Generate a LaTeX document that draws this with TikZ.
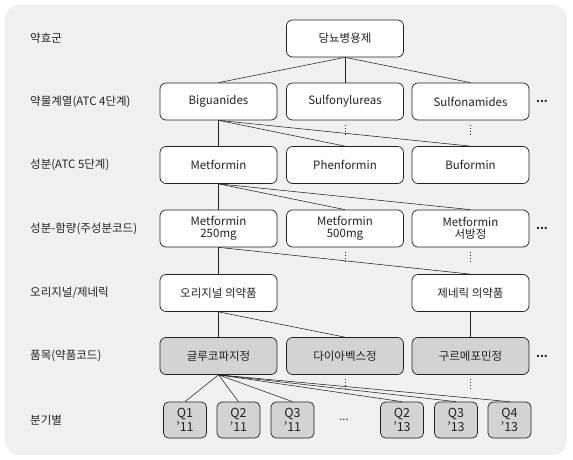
\documentclass[tikz,border=0pt]{standalone}
\usepackage{fontspec}
\setmainfont{Noto Sans CJK KR}
\usetikzlibrary{positioning}
\definecolor{bg}{HTML}{F0F0F0}
\definecolor{ink}{HTML}{222222}
\definecolor{itemgray}{HTML}{D3D3D3}
\tikzset{
  catbox/.style={
    draw=ink,
    line width=0.7pt,
    fill=white,
    rounded corners=6pt,
    minimum width=117pt,
    minimum height=37pt,
    inner sep=0pt,
    align=center,
    text=ink,
    font=\fontsize{11.5}{12}\selectfont
  },
  itembox/.style={
    catbox,
    fill=itemgray
  },
  qbox/.style={
    itembox,
    minimum width=43pt,
    minimum height=36pt,
    rounded corners=5pt,
    font=\fontsize{12.5}{13.5}\selectfont
  },
  levellabel/.style={
    anchor=west,
    inner sep=0pt,
    text=ink,
    font=\fontsize{11.5}{12}\selectfont
  },
  moretext/.style={
    inner sep=0pt,
    text=ink,
    font=\bfseries\fontsize{11}{12}\selectfont
  },
  link/.style={
    draw=ink,
    line width=0.55pt
  },
  moredots/.style={
    draw=ink,
    line width=1pt,
    dash pattern=on 1pt off 2pt
  }
}

\begin{document}
\begin{tikzpicture}[x=1pt,y=-1pt]

\useasboundingbox (0,0) rectangle (573,460);

% Background
\fill[bg, rounded corners=14pt] (5,5) rectangle (567,455);

% ---------- Level labels ----------
\foreach \y/\lbl in {
  38.5/{약효군},
  101.5/{약물계열(ATC 4단계)},
  165/{성분(ATC 5단계)},
  228.5/{성분-함량(주성분코드)},
  293/{오리지널/제네릭},
  356/{품목(약품코드)},
  420/{분기별}
}{
  \node[levellabel] at (30,\y) {\lbl};
}

% ---------- Boxes ----------
\node[catbox] (root) at (345,38.5) {당뇨병용제};

\node[catbox] (bigu)  at (218.5,101.5) {Biguanides};
\node[catbox] (sulfu) at (345,101.5)   {Sulfonylureas};
\node[catbox] (sulfa) at (470.5,101.5) {Sulfonamides};

\node[catbox] (metf) at (218.5,165) {Metformin};
\node[catbox] (phen) at (345,165)   {Phenformin};
\node[catbox] (bufo) at (470.5,165) {Buformin};

\node[catbox] (met250) at (218.5,228.5) {Metformin\\250mg};
\node[catbox] (met500) at (345,228.5)   {Metformin\\500mg};
\node[catbox] (metsr)  at (470.5,228.5) {Metformin\\서방정};

\node[catbox] (orig) at (218.5,293) {오리지널 의약품};
\node[catbox] (gen)  at (470.5,293) {제네릭 의약품};

\node[itembox] (gluco)  at (218.5,356) {글루코파지정};
\node[itembox] (diabex) at (345,356)   {다이아벡스정};
\node[itembox] (gurme)  at (470.5,356) {구르메포민정};

% quarters
\foreach \x/\q/\yr in {185/1/11, 238.5/2/11, 292.5/3/11, 402/2/13, 456/3/13, 509.5/4/13}{
  \node[qbox] (q\q\yr) at (\x,420) {Q\q\\’\yr};
}

% ---------- Links ----------
\foreach \c in {bigu,sulfu,sulfa}
  \draw[link] (root.south) -- (\c.north);
\foreach \c in {metf,phen,bufo}
  \draw[link] (bigu.south) -- (\c.north);
\foreach \c in {met250,met500,metsr}
  \draw[link] (metf.south) -- (\c.north);
\foreach \c in {orig,gen}
  \draw[link] (met250.south) -- (\c.north);
\foreach \c in {gluco,diabex}
  \draw[link] (orig.south) -- (\c.north);
\draw[link] (gen.south) -- (gurme.north);
\foreach \c in {q111,q211,q311,q213,q313,q413}
  \draw[link] (gluco.south) -- (\c.north);

% ---------- Omitted branches ----------
\foreach \c in {sulfu,sulfa,met500,metsr,diabex,gurme}
  \draw[moredots] ([yshift=-4.5pt]\c.south) -- ++(0,10);

\node[moretext] (more2) at (542,101.5) {...};
\node[moretext] (more4) at (542,228.5) {...};
\node[moretext] (more6) at (542,356)   {...};
\node[moretext, font=\fontsize{11}{12}\selectfont] (more7) at (344,420) {...};

\end{tikzpicture}
\end{document}
